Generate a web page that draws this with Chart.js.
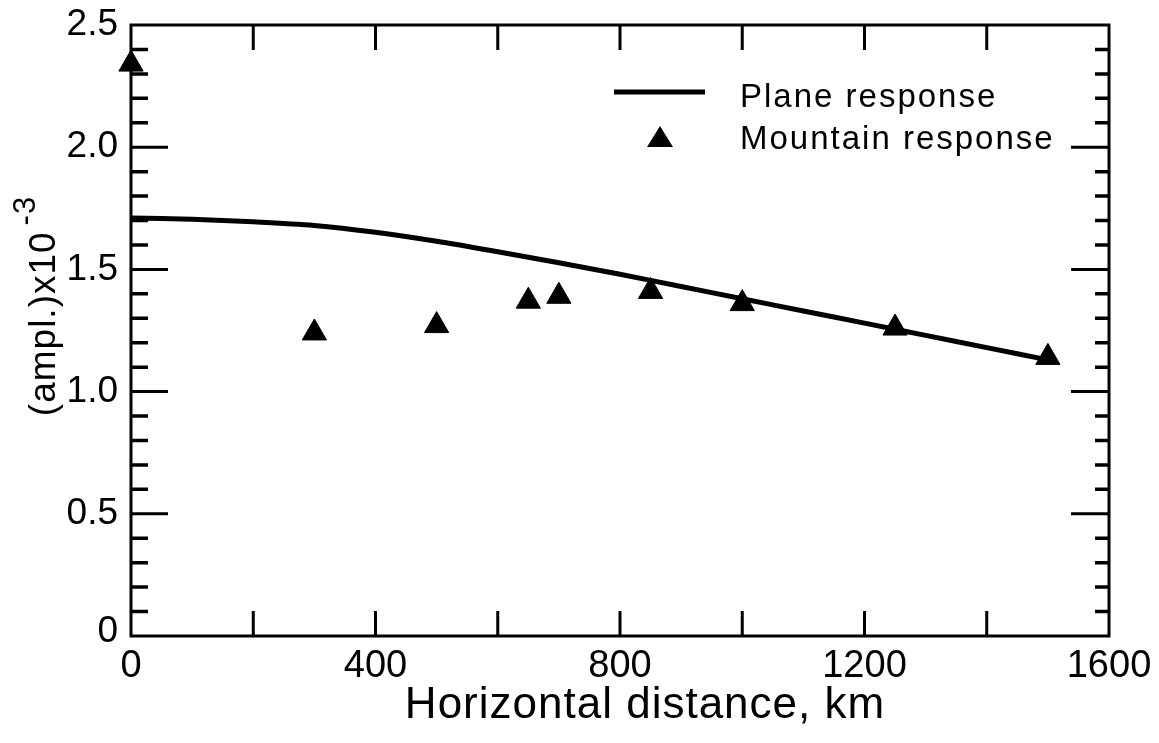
<!DOCTYPE html>
<html lang="en">
<head>
    <meta charset="UTF-8">
    <title>Plane vs mountain response</title>
    <script src="https://cdn.jsdelivr.net/npm/chart.js@4.4.1/dist/chart.umd.min.js"></script>
    <style>
        body { margin: 0; background: #fff; }
        #wrap { width: 1159px; height: 743px; }
    </style>
</head>
<body>
<div id="wrap"><canvas id="myChart"></canvas></div>
<script>
    // plane response curve (km, ampl x10^-3)
    var planeX = [0, 100, 200, 300, 400, 500, 600, 700, 800, 900, 1000, 1100, 1200, 1300, 1400, 1500];
    var planeY = [1.71, 1.705, 1.695, 1.68, 1.652, 1.615, 1.572, 1.527, 1.48, 1.43, 1.38, 1.33, 1.28, 1.23, 1.18, 1.13];
    // mountain response points
    var mountX = [0, 300, 500, 650, 700, 850, 1000, 1250, 1500];
    var mountY = [2.34, 1.24, 1.27, 1.37, 1.39, 1.41, 1.36, 1.26, 1.14];
    // tick labels
    var xLabels = [0, 400, 800, 1200, 1600];
    var yLabels = ['0', '0.5', '1.0', '1.5', '2.0', '2.5'];

    var FONT = '"Liberation Sans", Arial, sans-serif';

    var toPts = function (xs, ys) {
        var out = [];
        for (var i = 0; i < xs.length; i++) out.push({x: xs[i], y: ys[i]});
        return out;
    };

    var framePlugin = {
        id: 'frame',
        afterDraw: function (chart) {
            var ctx = chart.ctx;
            var a = chart.chartArea;
            var xs = chart.scales.x, ys = chart.scales.y;
            ctx.save();
            ctx.strokeStyle = '#000';
            ctx.fillStyle = '#000';
            ctx.lineWidth = 3;
            ctx.strokeRect(a.left, a.top, a.right - a.left, a.bottom - a.top);

            // x ticks every 200, top and bottom
            for (var v = 200; v < 1600; v += 200) {
                var px = xs.getPixelForValue(v);
                ctx.beginPath();
                ctx.moveTo(px, a.bottom); ctx.lineTo(px, a.bottom - 25);
                ctx.moveTo(px, a.top); ctx.lineTo(px, a.top + 25);
                ctx.stroke();
            }
            // y ticks every 0.1, major every 0.5
            for (var k = 1; k < 25; k++) {
                var py = ys.getPixelForValue(k / 10);
                var major = k % 5 === 0;
                ctx.lineWidth = major ? 3 : 3.5;
                ctx.beginPath();
                ctx.moveTo(a.left, py); ctx.lineTo(a.left + (major ? 37 : 17), py);
                ctx.moveTo(a.right, py); ctx.lineTo(a.right - (major ? 38 : 14), py);
                ctx.stroke();
            }

            // tick labels
            ctx.font = '38px ' + FONT;
            ctx.textAlign = 'center';
            ctx.textBaseline = 'alphabetic';
            xLabels.forEach(function (t) {
                ctx.fillText(String(t), xs.getPixelForValue(t), 677);
            });
            ctx.font = '37px ' + FONT;
            ctx.textAlign = 'right';
            ctx.textBaseline = 'middle';
            yLabels.forEach(function (t) {
                var py = ys.getPixelForValue(parseFloat(t));
                if (t === '0') py -= 4;
                ctx.fillText(t, a.left - 13, py);
            });

            // axis titles
            ctx.font = '44px ' + FONT;
            ctx.letterSpacing = '1px';
            ctx.textAlign = 'center';
            ctx.textBaseline = 'alphabetic';
            ctx.fillText('Horizontal distance, km', 645, 718);

            ctx.save();
            ctx.translate(55, 306);
            ctx.rotate(-Math.PI / 2);
            ctx.textAlign = 'left';
            var base = '(ampl.)x10';
            ctx.font = '37px ' + FONT;
            var w = ctx.measureText(base).width;
            ctx.font = '31px ' + FONT;
            var ws = ctx.measureText('-3').width;
            var start = -(w + ws + 6) / 2;
            ctx.font = '37px ' + FONT;
            ctx.fillText(base, start, 0);
            ctx.font = '31px ' + FONT;
            ctx.fillText('-3', start + w + 6, -20);
            ctx.restore();

            // legend
            ctx.lineWidth = 5;
            ctx.beginPath();
            ctx.moveTo(614, 92); ctx.lineTo(705, 92);
            ctx.stroke();
            ctx.beginPath();
            ctx.moveTo(660, 126); ctx.lineTo(673, 147); ctx.lineTo(647, 147);
            ctx.closePath();
            ctx.fill();
            ctx.font = '33px ' + FONT;
            ctx.letterSpacing = '2px';
            ctx.textAlign = 'left';
            ctx.textBaseline = 'alphabetic';
            ctx.fillText('Plane response', 740, 107);
            ctx.fillText('Mountain response', 740, 149);
            ctx.restore();
        }
    };

    new Chart(document.getElementById('myChart'), {
        type: 'scatter',
        data: {
            datasets: [{
                label: 'Plane response',
                data: toPts(planeX, planeY),
                showLine: true,
                borderColor: '#000',
                borderWidth: 5,
                pointRadius: 0,
                tension: 0.3,
                fill: false
            }, {
                label: 'Mountain response',
                data: toPts(mountX, mountY),
                pointStyle: 'triangle',
                pointRadius: 14,
                backgroundColor: '#000',
                borderColor: '#000',
                borderWidth: 1,
                clip: false
            }]
        },
        options: {
            responsive: true,
            maintainAspectRatio: false,
            animation: false,
            layout: { padding: { left: 131, top: 25, right: 50, bottom: 107 } },
            plugins: { legend: { display: false }, tooltip: { enabled: false } },
            scales: {
                x: { type: 'linear', min: 0, max: 1600, display: false },
                y: { type: 'linear', min: 0, max: 2.5, display: false }
            }
        },
        plugins: [framePlugin]
    });
</script>
</body>
</html>
